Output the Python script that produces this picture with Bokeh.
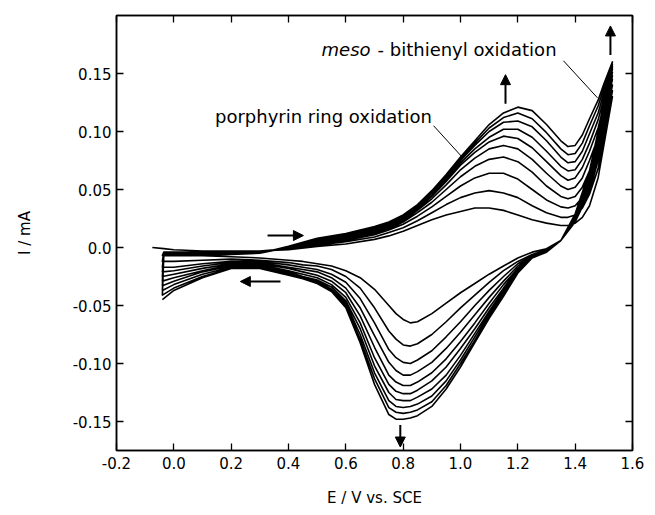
from bokeh.plotting import figure
from bokeh.models import Range1d, FixedTicker, LinearAxis, Label, Arrow, NormalHead, ColumnDataSource
from bokeh.embed import file_html
from bokeh.resources import INLINE

# ---------------- data ----------------
start_E = -0.075
start_I = 0.0

E_fwd = [-0.035, 0.0, 0.1, 0.2, 0.3, 0.4, 0.5, 0.6, 0.7, 0.75, 0.8, 0.85, 0.9, 0.95,
         1.0, 1.05, 1.1, 1.15, 1.2, 1.25, 1.3, 1.35, 1.375, 1.4, 1.425, 1.45, 1.48, 1.5, 1.53]
E_rev = [1.5, 1.48, 1.45, 1.4, 1.35, 1.3, 1.25, 1.2, 1.15, 1.1, 1.05, 1.0, 0.95, 0.9,
         0.85, 0.825, 0.8, 0.775, 0.75, 0.7, 0.65, 0.6, 0.55, 0.5, 0.45, 0.4, 0.3, 0.2, 0.1, 0.0, -0.04]

fwd_1 = [-0.001, -0.002, -0.003, -0.003, -0.003, -0.002, 0.001, 0.003, 0.007, 0.010, 0.014, 0.019, 0.024, 0.028, 0.031, 0.034, 0.034, 0.032, 0.028, 0.024, 0.021, 0.019, 0.019, 0.021, 0.026, 0.036, 0.060, 0.088, 0.130]
fwd_2 = [-0.004, -0.004, -0.004, -0.004, -0.003, -0.001, 0.002, 0.005, 0.009, 0.013, 0.017, 0.023, 0.030, 0.037, 0.043, 0.047, 0.049, 0.047, 0.043, 0.036, 0.030, 0.026, 0.026, 0.028, 0.034, 0.046, 0.068, 0.095, 0.135]
fwd_3 = [-0.004, -0.005, -0.005, -0.004, -0.004, -0.001, 0.003, 0.006, 0.011, 0.015, 0.020, 0.027, 0.035, 0.044, 0.053, 0.060, 0.064, 0.064, 0.059, 0.050, 0.041, 0.035, 0.034, 0.036, 0.043, 0.056, 0.077, 0.102, 0.140]
fwd_4 = [-0.005, -0.005, -0.005, -0.005, -0.004, 0.000, 0.004, 0.007, 0.012, 0.016, 0.022, 0.030, 0.039, 0.050, 0.061, 0.070, 0.076, 0.078, 0.074, 0.065, 0.053, 0.044, 0.042, 0.044, 0.052, 0.066, 0.087, 0.110, 0.145]
fwd_5 = [-0.005, -0.005, -0.006, -0.005, -0.004, 0.000, 0.005, 0.008, 0.013, 0.017, 0.023, 0.032, 0.042, 0.054, 0.067, 0.077, 0.085, 0.088, 0.085, 0.076, 0.064, 0.053, 0.050, 0.052, 0.060, 0.075, 0.095, 0.117, 0.148]
fwd_6 = [-0.006, -0.006, -0.006, -0.005, -0.004, 0.000, 0.005, 0.009, 0.014, 0.018, 0.024, 0.033, 0.044, 0.057, 0.071, 0.082, 0.091, 0.096, 0.094, 0.086, 0.074, 0.062, 0.058, 0.060, 0.069, 0.083, 0.103, 0.123, 0.151]
fwd_7 = [-0.006, -0.006, -0.006, -0.006, -0.005, 0.000, 0.006, 0.010, 0.015, 0.019, 0.025, 0.034, 0.045, 0.059, 0.073, 0.085, 0.095, 0.102, 0.102, 0.095, 0.083, 0.070, 0.066, 0.067, 0.076, 0.090, 0.110, 0.128, 0.154]
fwd_8 = [-0.006, -0.006, -0.007, -0.006, -0.005, 0.001, 0.007, 0.011, 0.016, 0.020, 0.026, 0.035, 0.047, 0.061, 0.075, 0.088, 0.100, 0.108, 0.109, 0.104, 0.092, 0.078, 0.073, 0.074, 0.083, 0.098, 0.116, 0.133, 0.156]
fwd_9 = [-0.007, -0.007, -0.007, -0.006, -0.005, 0.001, 0.007, 0.011, 0.017, 0.021, 0.027, 0.036, 0.048, 0.062, 0.077, 0.090, 0.103, 0.112, 0.116, 0.111, 0.099, 0.085, 0.080, 0.081, 0.090, 0.105, 0.122, 0.137, 0.158]
fwd_10 = [-0.007, -0.007, -0.007, -0.006, -0.005, 0.001, 0.008, 0.012, 0.018, 0.022, 0.028, 0.037, 0.049, 0.063, 0.078, 0.092, 0.106, 0.116, 0.121, 0.118, 0.106, 0.092, 0.087, 0.088, 0.097, 0.111, 0.127, 0.141, 0.160]

rev_1 = [0.100, 0.075, 0.048, 0.022, 0.006, -0.001, -0.004, -0.009, -0.016, -0.023, -0.031, -0.039, -0.048, -0.057, -0.064, -0.065, -0.062, -0.057, -0.050, -0.036, -0.026, -0.020, -0.016, -0.014, -0.012, -0.011, -0.009, -0.008, -0.007, -0.007, -0.007]
rev_2 = [0.104, 0.078, 0.050, 0.023, 0.006, -0.002, -0.006, -0.012, -0.020, -0.030, -0.041, -0.052, -0.064, -0.075, -0.083, -0.085, -0.084, -0.079, -0.072, -0.052, -0.035, -0.025, -0.019, -0.016, -0.015, -0.013, -0.011, -0.010, -0.011, -0.012, -0.012]
rev_3 = [0.107, 0.081, 0.052, 0.024, 0.006, -0.002, -0.007, -0.014, -0.025, -0.037, -0.050, -0.064, -0.077, -0.089, -0.097, -0.100, -0.099, -0.095, -0.088, -0.065, -0.044, -0.030, -0.023, -0.019, -0.017, -0.015, -0.012, -0.012, -0.014, -0.017, -0.017]
rev_4 = [0.110, 0.084, 0.054, 0.025, 0.006, -0.002, -0.007, -0.016, -0.029, -0.043, -0.058, -0.073, -0.087, -0.099, -0.107, -0.110, -0.110, -0.106, -0.099, -0.076, -0.052, -0.035, -0.026, -0.021, -0.019, -0.017, -0.013, -0.013, -0.016, -0.020, -0.021]
rev_5 = [0.112, 0.087, 0.056, 0.026, 0.006, -0.003, -0.008, -0.018, -0.032, -0.048, -0.065, -0.081, -0.096, -0.108, -0.116, -0.119, -0.119, -0.116, -0.110, -0.086, -0.059, -0.039, -0.029, -0.024, -0.021, -0.018, -0.014, -0.014, -0.018, -0.023, -0.025]
rev_6 = [0.115, 0.090, 0.058, 0.026, 0.006, -0.003, -0.008, -0.019, -0.035, -0.052, -0.070, -0.087, -0.103, -0.115, -0.123, -0.126, -0.126, -0.124, -0.118, -0.095, -0.065, -0.043, -0.032, -0.026, -0.023, -0.020, -0.015, -0.015, -0.020, -0.026, -0.029]
rev_7 = [0.117, 0.092, 0.060, 0.027, 0.006, -0.003, -0.009, -0.020, -0.037, -0.055, -0.074, -0.093, -0.110, -0.122, -0.129, -0.132, -0.132, -0.131, -0.125, -0.102, -0.070, -0.046, -0.034, -0.028, -0.025, -0.021, -0.016, -0.016, -0.021, -0.029, -0.033]
rev_8 = [0.119, 0.094, 0.062, 0.027, 0.006, -0.004, -0.009, -0.021, -0.039, -0.057, -0.077, -0.097, -0.115, -0.128, -0.135, -0.137, -0.138, -0.137, -0.132, -0.108, -0.075, -0.048, -0.036, -0.029, -0.026, -0.022, -0.017, -0.017, -0.023, -0.032, -0.037]
rev_9 = [0.122, 0.097, 0.064, 0.028, 0.006, -0.004, -0.009, -0.022, -0.041, -0.059, -0.080, -0.100, -0.119, -0.133, -0.140, -0.142, -0.143, -0.142, -0.138, -0.113, -0.079, -0.050, -0.037, -0.030, -0.027, -0.023, -0.018, -0.018, -0.025, -0.035, -0.041]
rev_10 = [0.125, 0.100, 0.066, 0.029, 0.006, -0.004, -0.009, -0.022, -0.042, -0.061, -0.082, -0.103, -0.122, -0.137, -0.145, -0.147, -0.148, -0.148, -0.144, -0.118, -0.082, -0.052, -0.038, -0.031, -0.027, -0.024, -0.018, -0.018, -0.026, -0.037, -0.045]

forward_scans = [fwd_1, fwd_2, fwd_3, fwd_4, fwd_5, fwd_6, fwd_7, fwd_8, fwd_9, fwd_10]
reverse_scans = [rev_1, rev_2, rev_3, rev_4, rev_5, rev_6, rev_7, rev_8, rev_9, rev_10]

x_ticks = [-0.2, 0.0, 0.2, 0.4, 0.6, 0.8, 1.0, 1.2, 1.4, 1.6]
x_tick_labels = ["-0.2", "0.0", "0.2", "0.4", "0.6", "0.8", "1.0", "1.2", "1.4", "1.6"]
y_ticks = [-0.15, -0.10, -0.05, 0.0, 0.05, 0.10, 0.15]
y_tick_labels = ["-0.15", "-0.10", "-0.05", "0.0", "0.05", "0.10", "0.15"]

# ---------------- figure ----------------
FONT = "DejaVu Sans"
p = figure(width=655, height=515, x_range=Range1d(-0.2, 1.6), y_range=Range1d(-0.175, 0.2),
           output_backend="svg", toolbar_location=None,
           min_border_left=116, min_border_right=23, min_border_top=15, min_border_bottom=65)
p.xgrid.visible = False
p.ygrid.visible = False
p.outline_line_color = "black"
p.outline_line_width = 1.5
p.background_fill_color = "white"
p.border_fill_color = "white"

xs, ys = [start_E], [start_I]
for f, r in zip(forward_scans, reverse_scans):
    xs += E_fwd
    ys += f
    xs += E_rev
    ys += r
p.line(xs, ys, line_color="black", line_width=1.6, line_join="round")

def style_axis(ax, show_labels):
    ax.axis_line_color = "black"
    ax.axis_line_width = 1.5
    ax.major_tick_in = 7
    ax.major_tick_out = 0
    ax.major_tick_line_width = 1.3
    ax.minor_tick_line_color = None
    ax.major_label_text_font = FONT
    ax.major_label_text_color = "black"
    if show_labels:
        ax.major_label_text_font_size = "15px"
    else:
        ax.major_label_text_font_size = "0px"
        ax.major_label_standoff = 0

xa = p.xaxis[0]
xa.ticker = FixedTicker(ticks=x_ticks)
xa.major_label_overrides = {t: l for t, l in zip(x_ticks, x_tick_labels)}
style_axis(xa, True)
xa.major_label_standoff = 6
xa.axis_label = "E / V vs. SCE"
xa.axis_label_text_font = FONT
xa.axis_label_text_font_size = "15px"
xa.axis_label_text_font_style = "normal"
xa.axis_label_text_color = "black"
xa.axis_label_standoff = 17

ya = p.yaxis[0]
ya.ticker = FixedTicker(ticks=y_ticks)
ya.major_label_overrides = {t: l for t, l in zip(y_ticks, y_tick_labels)}
style_axis(ya, True)
ya.major_label_standoff = 5
ya.axis_label = "I / mA"
ya.axis_label_text_font = FONT
ya.axis_label_text_font_size = "15px"
ya.axis_label_text_font_style = "normal"
ya.axis_label_text_color = "black"
ya.axis_label_standoff = 36

top = LinearAxis(ticker=FixedTicker(ticks=x_ticks))
style_axis(top, False)
p.add_layout(top, "above")
right = LinearAxis(ticker=FixedTicker(ticks=y_ticks))
style_axis(right, False)
p.add_layout(right, "right")

# ---------------- annotations ----------------
ANN = "18px"
p.add_layout(Label(x=0.9, y=0.113, text="porphyrin ring oxidation", text_align="right",
                   text_baseline="middle", text_font=FONT, text_font_size=ANN, text_color="black"))
p.add_layout(Label(x=1.335, y=0.171, text="- bithienyl oxidation", text_align="right",
                   text_baseline="middle", text_font=FONT, text_font_size=ANN, text_color="black"))
p.add_layout(Label(x=1.335, y=0.171, x_offset=-186, text="meso", text_align="right",
                   text_baseline="middle", text_font=FONT, text_font_size=ANN,
                   text_font_style="italic", text_color="black"))

leaders = ColumnDataSource(dict(x0=[0.906, 1.359], y0=[0.105, 0.161], x1=[1.007, 1.478], y1=[0.0776, 0.129]))
p.segment(x0="x0", y0="y0", x1="x1", y1="y1", source=leaders, line_color="black", line_width=1)

def arrow(x0, y0, x1, y1):
    p.add_layout(Arrow(end=NormalHead(size=10, fill_color="black", line_color="black"),
                       x_start=x0, y_start=y0, x_end=x1, y_end=y1,
                       line_color="black", line_width=2))

arrow(1.157, 0.124, 1.157, 0.149)
arrow(1.523, 0.166, 1.523, 0.191)
arrow(0.79, -0.153, 0.79, -0.172)
arrow(0.327, 0.0103, 0.452, 0.0103)
arrow(0.372, -0.0293, 0.232, -0.0293)

open("out.html", "w").write(file_html(p, INLINE))
